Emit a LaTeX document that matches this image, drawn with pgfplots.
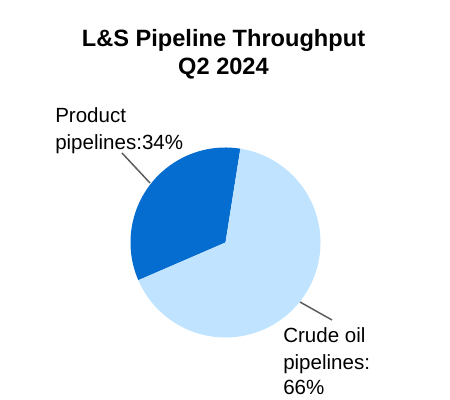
\documentclass[border=0pt]{standalone}
\usepackage{pgfplots}
\pgfplotsset{compat=1.18}
\usepackage{pgfplotstable}
\usepackage{fontspec}
\setmainfont{Liberation Sans}
\definecolor{darkblue}{RGB}{5,108,208}
\definecolor{lightblue}{RGB}{192,228,255}
\definecolor{leader}{RGB}{90,90,90}
\pgfplotstableread{
label value
Product 34
Crude 66
}\piedata
\begin{document}
\begin{tikzpicture}
\pgfplotstablegetelem{0}{value}\of\piedata \let\vA\pgfplotsretval
\pgfplotstablegetelem{1}{value}\of\piedata \let\vB\pgfplotsretval
\pgfmathsetmacro{\aStart}{81}
\pgfmathsetmacro{\aMid}{\aStart+3.6*\vA}
\pgfmathsetmacro{\aEnd}{\aMid+3.6*\vB}
\begin{axis}[
  hide axis, clip=false,
  x=0.75pt, y=0.75pt,
  xmin=0, xmax=450, ymin=0, ymax=400,
  anchor=origin, at={(0,0)},
]
\path (axis cs:0,0) rectangle (axis cs:450,400);
% slices
\fill[darkblue] (axis cs:225.5,157.5) -- ++(\aStart:71.25pt) arc[start angle=\aStart, end angle=\aMid, radius=71.25pt] -- cycle;
\fill[lightblue] (axis cs:225.5,157.5) -- ++(\aMid:71.25pt) arc[start angle=\aMid, end angle=\aEnd, radius=71.25pt] -- cycle;
% leader lines
\draw[leader, line width=1.1pt] (axis cs:122,247) -- (axis cs:150,217);
\draw[leader, line width=1.1pt] (axis cs:300,98) -- (axis cs:332,80);
% title
\node[anchor=base, inner sep=0, font=\fontsize{17.7}{20}\selectfont\bfseries] at (axis cs:223.5,353) {L\&S Pipeline Throughput};
\node[anchor=base, inner sep=0, font=\fontsize{17.7}{20}\selectfont\bfseries] at (axis cs:223.5,325) {Q2 2024};
% labels
\node[anchor=base west, inner sep=0, font=\fontsize{15.4}{18}\selectfont] at (axis cs:55,277) {Product};
\node[anchor=base west, inner sep=0, font=\fontsize{15.4}{18}\selectfont] at (axis cs:55,250) {pipelines:34\%};
\node[anchor=base west, inner sep=0, font=\fontsize{15.4}{18}\selectfont] at (axis cs:283,57) {Crude oil};
\node[anchor=base west, inner sep=0, font=\fontsize{15.4}{18}\selectfont] at (axis cs:283,31) {pipelines:};
\node[anchor=base west, inner sep=0, font=\fontsize{15.4}{18}\selectfont] at (axis cs:283,6) {66\%};
\end{axis}
\end{tikzpicture}
\end{document}
